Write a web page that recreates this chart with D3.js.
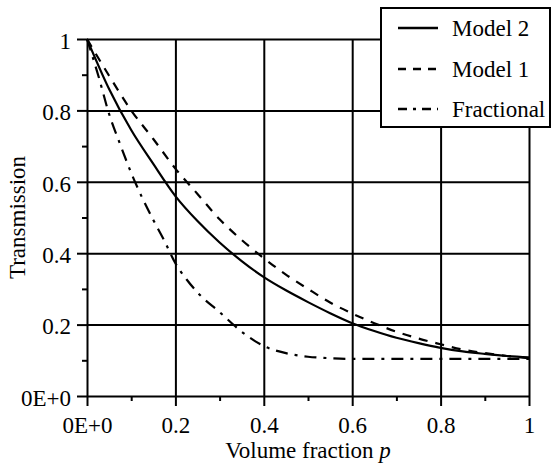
<!DOCTYPE html>
<html>
<head>
<meta charset="utf-8">
<script src="https://cdn.jsdelivr.net/npm/d3@7"></script>
<style>
  html, body { margin: 0; padding: 0; background: #fff; }
  svg { display: block; }
  text { font-family: "Liberation Serif", "Times New Roman", serif; fill: #000; }
</style>
</head>
<body>
<svg id="chart" width="551" height="470"></svg>
<script>
// ---- data ----
const xTicks = [0, 0.2, 0.4, 0.6, 0.8, 1];
const xTickLabels = ["0E+0", "0.2", "0.4", "0.6", "0.8", "1"];
const yTicks = [0, 0.2, 0.4, 0.6, 0.8, 1];
const yTickLabels = ["0E+0", "0.2", "0.4", "0.6", "0.8", "1"];
const xMinor = [0.1, 0.3, 0.5, 0.7, 0.9];
const yMinor = [0.1, 0.3, 0.5, 0.7, 0.9];

const seriesNames = ["Model 2", "Model 1", "Fractional"];

const model2P = [0, 0.05, 0.1, 0.15, 0.2, 0.25, 0.3, 0.35, 0.4, 0.45, 0.5, 0.55, 0.6, 0.65, 0.7, 0.75, 0.8, 0.85, 0.9, 0.95, 1.0];
const model2T = [1.0, 0.86, 0.745, 0.65, 0.56, 0.49, 0.43, 0.378, 0.333, 0.296, 0.263, 0.232, 0.204, 0.182, 0.163, 0.148, 0.135, 0.125, 0.118, 0.112, 0.108];

const model1P = [0, 0.05, 0.1, 0.15, 0.2, 0.25, 0.3, 0.35, 0.4, 0.45, 0.5, 0.55, 0.6, 0.65, 0.7, 0.75, 0.8, 0.85, 0.9, 0.95, 1.0];
const model1T = [1.0, 0.897, 0.80, 0.72, 0.637, 0.566, 0.495, 0.437, 0.386, 0.34, 0.30, 0.262, 0.231, 0.204, 0.18, 0.161, 0.145, 0.13, 0.12, 0.112, 0.106];

const fracP = [0, 0.025, 0.05, 0.075, 0.1, 0.125, 0.15, 0.175, 0.2, 0.225, 0.25, 0.3, 0.35, 0.4, 0.45, 0.5, 0.55, 0.6, 0.7, 0.8, 0.9, 1.0];
const fracT = [1.0, 0.90, 0.79, 0.705, 0.625, 0.555, 0.493, 0.435, 0.372, 0.327, 0.29, 0.235, 0.18, 0.14, 0.12, 0.11, 0.106, 0.104, 0.104, 0.104, 0.104, 0.104];

// ---- layout ----
const svg = d3.select("#chart");
const mLeft = 87, mRight = 529, mTop = 39, mBottom = 396;
const x = d3.scaleLinear().domain([0, 1]).range([mLeft, mRight]);
const y = d3.scaleLinear().domain([0, 1]).range([mBottom, mTop]);
const font = 23;
const serif = "Liberation Serif, Times New Roman, serif";

// grid lines
svg.append("g")
  .attr("transform", `translate(0,${mBottom})`)
  .call(d3.axisBottom(x).tickValues(xTicks).tickSize(-(mBottom - mTop)).tickFormat(""))
  .call(g => g.select(".domain").remove())
  .selectAll("line").attr("stroke", "#000").attr("stroke-width", 2);
svg.append("g")
  .attr("transform", `translate(${mLeft},0)`)
  .call(d3.axisLeft(y).tickValues(yTicks).tickSize(-(mRight - mLeft)).tickFormat(""))
  .call(g => g.select(".domain").remove())
  .selectAll("line").attr("stroke", "#000").attr("stroke-width", 2);

// minor ticks
svg.append("g")
  .attr("transform", `translate(0,${mBottom})`)
  .call(d3.axisBottom(x).tickValues(xMinor).tickSize(5).tickFormat(""))
  .call(g => g.select(".domain").remove())
  .selectAll("line").attr("stroke", "#000").attr("stroke-width", 2);
svg.append("g")
  .attr("transform", `translate(${mLeft},0)`)
  .call(d3.axisLeft(y).tickValues(yMinor).tickSize(5).tickFormat(""))
  .call(g => g.select(".domain").remove())
  .selectAll("line").attr("stroke", "#000").attr("stroke-width", 2);

// major axes with labels
const xAxis = svg.append("g")
  .attr("transform", `translate(0,${mBottom})`)
  .call(d3.axisBottom(x).tickValues(xTicks).tickSize(10).tickPadding(11)
    .tickFormat((d, i) => xTickLabels[i]));
xAxis.select(".domain").remove();
xAxis.selectAll("line").attr("stroke", "#000").attr("stroke-width", 2);
xAxis.selectAll("text").attr("font-size", font).attr("font-family", serif).attr("fill", "#000");

const yAxis = svg.append("g")
  .attr("transform", `translate(${mLeft},0)`)
  .call(d3.axisLeft(y).tickValues(yTicks).tickSize(10).tickPadding(6)
    .tickFormat((d, i) => yTickLabels[i]));
yAxis.select(".domain").remove();
yAxis.selectAll("line").attr("stroke", "#000").attr("stroke-width", 2);
yAxis.selectAll("text").attr("font-size", font).attr("font-family", serif).attr("fill", "#000")
  .attr("dy", "0.4em");

// curves
const line = d3.line().x(d => x(d[0])).y(d => y(d[1])).curve(d3.curveMonotoneX);
const series = [
  { name: seriesNames[0], P: model2P, T: model2T, dash: null, legDash: null },
  { name: seriesNames[1], P: model1P, T: model1T, dash: "9,8", legDash: "8,7" },
  { name: seriesNames[2], P: fracP, T: fracT, dash: "12,7,3,7", legDash: "9,6,3,6" }
];
series.forEach(s => {
  svg.append("path")
    .datum(s.P.map((p, i) => [p, s.T[i]]))
    .attr("d", line)
    .attr("fill", "none")
    .attr("stroke", "#000")
    .attr("stroke-width", 2.2)
    .attr("stroke-dasharray", s.dash);
});

// axis titles
const xt = svg.append("text")
  .attr("x", (mLeft + mRight) / 2)
  .attr("y", 458)
  .attr("text-anchor", "middle")
  .attr("font-size", font);
xt.append("tspan").text("Volume fraction ");
xt.append("tspan").attr("font-style", "italic").text("p");

svg.append("text")
  .attr("transform", `translate(25,${(mTop + mBottom) / 2}) rotate(-90)`)
  .attr("text-anchor", "middle")
  .attr("font-size", font)
  .text("Transmission");

// legend
const lg = svg.append("g");
lg.append("rect")
  .attr("x", 381).attr("y", 8).attr("width", 169).attr("height", 119)
  .attr("fill", "#fff").attr("stroke", "#000").attr("stroke-width", 2);
const legY = [28, 69, 109];
series.forEach((s, i) => {
  lg.append("line")
    .attr("x1", 398).attr("x2", 438)
    .attr("y1", legY[i]).attr("y2", legY[i])
    .attr("stroke", "#000").attr("stroke-width", 2.4)
    .attr("stroke-dasharray", s.legDash);
  lg.append("text")
    .attr("x", 452).attr("y", legY[i])
    .attr("dy", "0.35em")
    .attr("font-size", font)
    .text(s.name);
});
</script>
</body>
</html>
